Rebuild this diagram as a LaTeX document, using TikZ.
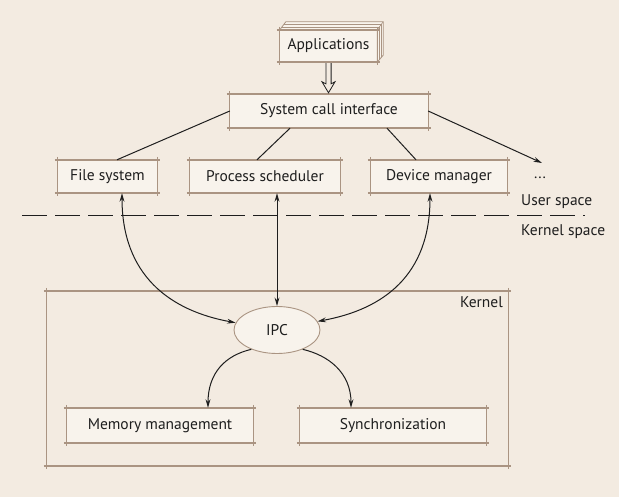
\documentclass[tikz,border=0pt]{standalone}
\usepackage{fontspec}
\setmainfont{PT Sans}
\usetikzlibrary{arrows.meta,shapes.geometric,calc}
\definecolor{bg}{HTML}{F3EBE1}
\definecolor{boxfill}{HTML}{F8F3EC}
\definecolor{edge}{HTML}{AA9482}
\definecolor{ink}{HTML}{1E1E1E}
\newcommand\skbox[1]{%
 \draw[hedge] ([xshift=-3pt]#1.north west) -- ([xshift=3pt]#1.north east);
 \draw[hedge] ([xshift=-3pt]#1.south west) -- ([xshift=3pt]#1.south east);
 \draw[vedge] ([yshift=3pt]#1.north west) -- ([yshift=-3pt]#1.south west);
 \draw[vedge] ([yshift=3pt]#1.north east) -- ([yshift=-3pt]#1.south east);}
\begin{document}
\begin{tikzpicture}[x=1pt,y=-1pt,
  txt/.style={inner sep=0pt, font=\fontsize{15.5}{17}\selectfont, text=ink},
  box/.style={txt, fill=boxfill},
  conn/.style={draw=ink, line width=1pt},
  arr/.style={conn, -{Stealth[length=8.5pt,width=4.8pt]}},
  arrs/.style={conn, {Stealth[length=8.5pt,width=4.8pt]}-{Stealth[length=8.5pt,width=4.8pt]}},
  hedge/.style={draw=edge, line width=1.5pt},
  vedge/.style={draw=edge, line width=1pt},
  hollow/.style={draw=ink, line width=0.8pt, line join=miter},
]
\fill[bg] (0,0) rectangle (619,497);
\useasboundingbox (0,0) rectangle (619,497);

% kernel container
\node[minimum width=461pt, minimum height=175pt, inner sep=0pt] (kern) at (277.5,378.5) {};
\skbox{kern}
\node[txt, anchor=east] (klab) at (503,302) {Kernel};

% applications (stack)
\node[box, minimum width=97pt, minimum height=32pt] (apps) at (328.5,46) {Applications};
\filldraw[fill=boxfill, draw=edge, line width=0.8pt]
  (apps.north west) -- ($(apps.north west)+(6,-8)$) -- ($(apps.north east)+(6,-8)$)
  -- ($(apps.south east)+(6,-7)$) -- (apps.south east) -- (apps.north east) -- cycle;
\draw[edge, line width=0.6pt] ($(apps.north west)+(2,-2.7)$) -- ($(apps.north east)+(2,-2.7)$) -- ($(apps.south east)+(2,-2.4)$);
\draw[edge, line width=0.6pt] ($(apps.north west)+(4,-5.4)$) -- ($(apps.north east)+(4,-5.4)$) -- ($(apps.south east)+(4,-4.8)$);
\draw[edge, line width=0.6pt] (apps.north east) -- ($(apps.north east)+(6,-8)$);
\skbox{apps}

% user-space boxes
\node[box, minimum width=198pt, minimum height=34pt] (sci) at (329,111) {System call interface};
\skbox{sci}
\node[box, minimum width=99pt, minimum height=33pt] (fs) at (107.5,176.5) {File system};
\skbox{fs}
\node[box, minimum width=150pt, minimum height=33pt] (ps) at (265,176.5) {Process scheduler};
\skbox{ps}
\node[box, minimum width=136pt, minimum height=33pt] (dm) at (439,176.5) {Device manager};
\skbox{dm}
\node[txt] (dots) at (540,178) {...};
\coordinate (dotsin) at (542,163);

\node[txt, anchor=west] (us) at (521,202) {User space};
\node[txt, anchor=west] (ks) at (521,232) {Kernel space};
\coordinate (dl) at (22,216);
\coordinate (dr) at (585,216);
\draw[draw=ink, line width=1pt, dash pattern=on 25pt off 8pt] (dl) -- (dr);

% kernel contents
\node[txt, ellipse, draw=edge, line width=0.9pt, fill=boxfill, minimum width=86pt, minimum height=47pt] (ipc) at (277,330) {IPC};
\node[box, minimum width=186pt, minimum height=35pt] (mem) at (160,425.5) {Memory management};
\skbox{mem}
\node[box, minimum width=186pt, minimum height=35pt] (syn) at (393,425.5) {Synchronization};
\skbox{syn}

% connectors
\coordinate (hA) at ([yshift=-1pt]apps.south);
\coordinate (hB) at ([yshift=1pt]apps.south |- sci.north);
\draw[hollow] ($(hA)+(-2.6,0)$) -- ($(hB)+(-2.6,-9)$) -- ($(hB)+(-6.5,-11)$) -- (hB)
  -- ($(hB)+(6.5,-11)$) -- ($(hB)+(2.6,-9)$) -- ($(hA)+(2.6,0)$);
\draw[conn] (sci.west) -- ($(fs.north)+(9.5,0)$);
\draw[conn] ($(sci.south)+(-39,0)$) -- ($(ps.north)+(-8,0)$);
\draw[conn] ($(sci.south)+(58,0)$) -- ($(dm.north)+(-23,0)$);
\draw[arr] (sci.east) -- (dotsin);

\draw[arrs] (ipc.north |- ps.south) -- (ipc.north);
\draw[arrs] ($(fs.south)+(14.5,0)$) .. controls +(0,82) and +(-66,-12) .. (ipc.170);
\draw[arrs] ($(dm.south)+(-9,0)$) .. controls +(0,82) and +(66,-12) .. (ipc.12);
\draw[arr] (ipc.217) .. controls +(-26,6) and +(0,-35) .. ($(mem.north)+(48,0)$);
\draw[arr] (ipc.323) .. controls +(26,6) and +(0,-35) .. ($(syn.north)+(-42,0)$);
\end{tikzpicture}
\end{document}
